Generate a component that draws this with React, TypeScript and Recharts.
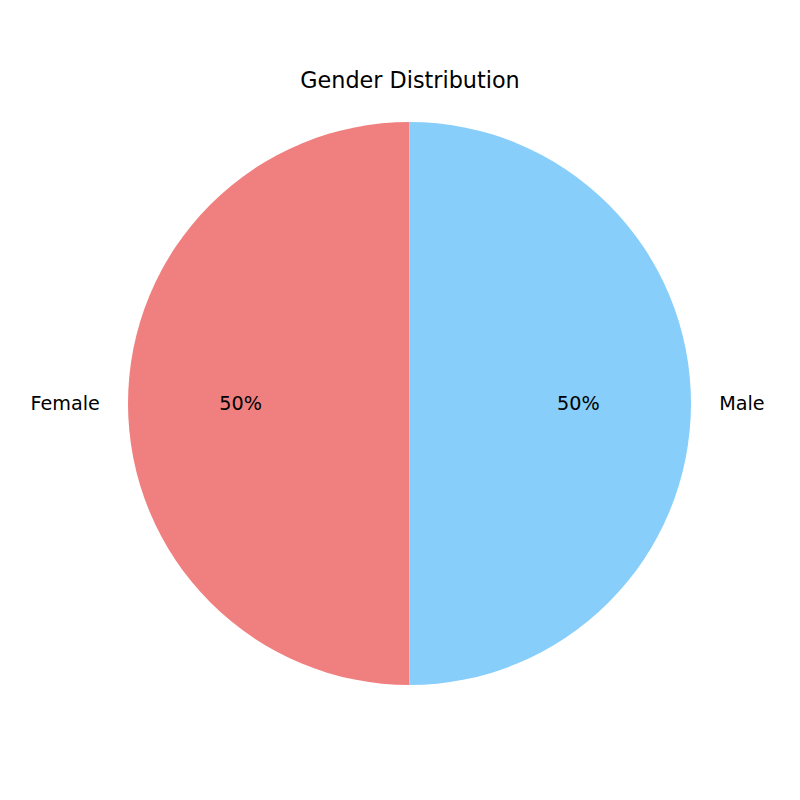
import { PieChart, Pie, Cell } from 'recharts'

const GENDERS = ['Female', 'Male']
const SHARES = [50, 50]
const COLORS = ['#F08080', '#87CEFA']

const chartData = GENDERS.map((g, i) => ({ name: g, value: SHARES[i] }))
const total = SHARES.reduce((s, v) => s + v, 0)

const RAD = Math.PI / 180
const FONT = 'DejaVu Sans, sans-serif'

function renderLabel(props: any) {
  const { cx, cy, outerRadius, midAngle, name, value } = props
  const cos = Math.cos(-midAngle * RAD)
  const sin = Math.sin(-midAngle * RAD)
  const lx = cx + outerRadius * 1.1 * cos
  const ly = cy + outerRadius * 1.1 * sin
  const px = cx + outerRadius * 0.6 * cos
  const py = cy + outerRadius * 0.6 * sin
  const pct = Math.round((value / total) * 100)
  return (
    <g>
      <text
        x={lx}
        y={ly}
        textAnchor={cos < 0 ? 'end' : 'start'}
        dominantBaseline="central"
        fontSize={19.2}
        fontFamily={FONT}
        fill="#000"
      >
        {name}
      </text>
      <text
        x={px}
        y={py}
        textAnchor="middle"
        dominantBaseline="central"
        fontSize={19.2}
        fontFamily={FONT}
        fill="#000"
      >
        {pct}%
      </text>
    </g>
  )
}

export default function App() {
  return (
    <div style={{ position: 'absolute', left: 0, top: 0, width: 800, height: 800, background: '#fff' }}>
      <PieChart width={800} height={800} margin={{ top: 0, right: 0, bottom: 0, left: 0 }}>
        <text
          x={410}
          y={80}
          textAnchor="middle"
          dominantBaseline="central"
          fontSize={22.3}
          fontFamily={FONT}
          fill="#000"
        >
          Gender Distribution
        </text>
        <Pie
          data={chartData}
          dataKey="value"
          nameKey="name"
          cx={409.5}
          cy={403.5}
          outerRadius={281.5}
          startAngle={90}
          endAngle={450}
          stroke="none"
          label={renderLabel}
          labelLine={false}
          isAnimationActive={false}
        >
          {chartData.map((d, i) => (
            <Cell key={d.name} fill={COLORS[i]} />
          ))}
        </Pie>
      </PieChart>
    </div>
  )
}
